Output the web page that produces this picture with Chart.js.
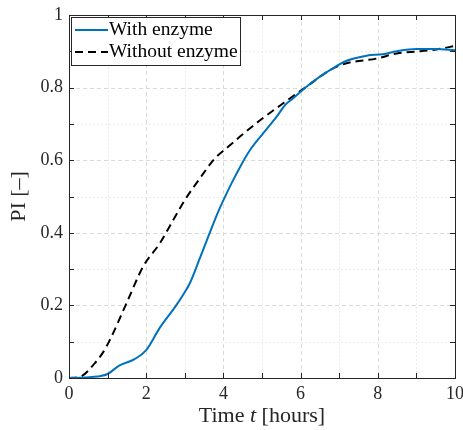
<!DOCTYPE html>
<html>
<head>
<meta charset="utf-8">
<script src="https://cdn.jsdelivr.net/npm/chart.js@4.4.1/dist/chart.umd.min.js"></script>
<style>
html,body{margin:0;padding:0;background:#fff;}
#wrap{width:463px;height:430px;position:relative;}
</style>
</head>
<body>
<div id="wrap"><canvas id="c" width="463" height="430"></canvas></div>
<script>
const seriesNames = ["With enzyme", "Without enzyme"];
const withT = [0,0.3,0.6,0.8,1.0,1.3,1.7,2.0,2.35,2.75,2.95,3.13,3.39,3.61,3.87,4.21,4.45,4.69,5.03,5.38,5.6,5.8,6.24,6.76,7.19,7.71,8.13,8.49,9.0,9.52,10];
const withPI = [0,0.001,0.003,0.005,0.011,0.034,0.052,0.077,0.138,0.196,0.228,0.261,0.33,0.39,0.459,0.536,0.585,0.628,0.674,0.72,0.752,0.77,0.81,0.848,0.874,0.888,0.892,0.9,0.906,0.906,0.903];
const withoutT = [0,0.3,0.67,0.89,1.06,1.49,1.92,2.36,2.7,3.0,3.39,3.78,4.08,4.43,4.95,5.55,6.16,6.76,7.19,7.97,8.49,9.09,9.52,10];
const withoutPI = [0,0.004,0.041,0.072,0.105,0.206,0.307,0.372,0.435,0.49,0.55,0.605,0.633,0.665,0.71,0.757,0.803,0.848,0.867,0.88,0.894,0.9,0.905,0.915];
const xTickLabels = ["0","2","4","6","8","10"];
const yTickLabels = ["0","0.2","0.4","0.6","0.8","1"];
const xTitle = ["Time ", "t", " [hours]"];
const yTitle = "PI [\u2013]";

const FONT = "'Liberation Serif', 'DejaVu Serif', serif";

const toPts = (xs, ys) => xs.map((x, i) => ({x: x, y: ys[i]}));

const decor = {
  id: 'decor',
  beforeDatasetsDraw(chart) {
    const {ctx, chartArea: a, scales: {x, y}} = chart;
    ctx.save();
    ctx.lineWidth = 1;
    ctx.strokeStyle = '#ececec';
    ctx.setLineDash([2, 2]);
    for (let v = 1; v < 10; v += 2) {
      const px = Math.round(x.getPixelForValue(v)) + 0.5;
      ctx.beginPath(); ctx.moveTo(px, a.top); ctx.lineTo(px, a.bottom); ctx.stroke();
    }
    for (let k = 1; k < 10; k += 2) {
      const py = Math.round(y.getPixelForValue(k / 10)) + 0.5;
      ctx.beginPath(); ctx.moveTo(a.left, py); ctx.lineTo(a.right, py); ctx.stroke();
    }
    ctx.strokeStyle = '#dadada';
    ctx.setLineDash([4, 3]);
    xTickLabels.forEach(l => {
      const v = parseFloat(l); if (v <= 0 || v >= 10) return;
      const px = Math.round(x.getPixelForValue(v)) + 0.5;
      ctx.beginPath(); ctx.moveTo(px, a.top); ctx.lineTo(px, a.bottom); ctx.stroke();
    });
    yTickLabels.forEach(l => {
      const v = parseFloat(l); if (v <= 0 || v >= 1) return;
      const py = Math.round(y.getPixelForValue(v)) + 0.5;
      ctx.beginPath(); ctx.moveTo(a.left, py); ctx.lineTo(a.right, py); ctx.stroke();
    });
    ctx.restore();
  },
  afterDraw(chart) {
    const {ctx, chartArea: a, scales: {x, y}} = chart;
    ctx.save();
    ctx.setLineDash([]);
    ctx.strokeStyle = '#262626';
    ctx.lineWidth = 1;
    const L = 5;
    for (let v = 0; v <= 10; v++) {
      const px = Math.round(x.getPixelForValue(v)) + 0.5;
      ctx.beginPath();
      ctx.moveTo(px, a.bottom); ctx.lineTo(px, a.bottom - L);
      ctx.moveTo(px, a.top); ctx.lineTo(px, a.top + L);
      ctx.stroke();
    }
    for (let k = 0; k <= 10; k++) {
      const py = Math.round(y.getPixelForValue(k / 10)) + 0.5;
      ctx.beginPath();
      ctx.moveTo(a.left, py); ctx.lineTo(a.left + L, py);
      ctx.moveTo(a.right, py); ctx.lineTo(a.right - L, py);
      ctx.stroke();
    }
    ctx.strokeRect(Math.round(a.left) + 0.5, Math.round(a.top) + 0.5, Math.round(a.right - a.left), Math.round(a.bottom - a.top));

    ctx.fillStyle = '#262626';
    ctx.textBaseline = 'alphabetic';
    const fN = "22px " + FONT, fI = "italic 22px " + FONT;
    const fonts = [fN, fI, fN];
    let widths = xTitle.map((s, i) => { ctx.font = fonts[i]; return ctx.measureText(s).width; });
    let total = widths.reduce((p, c) => p + c, 0);
    let cx = (a.left + a.right) / 2 - total / 2;
    xTitle.forEach((s, i) => { ctx.font = fonts[i]; ctx.fillText(s, cx, 422); cx += widths[i]; });

    ctx.save();
    ctx.translate(25, (a.top + a.bottom) / 2);
    ctx.rotate(-Math.PI / 2);
    ctx.font = fN;
    ctx.textAlign = 'center';
    ctx.fillText(yTitle, 0, 0);
    ctx.restore();

    const lx = 71, ly = 17, lw = 169, lh = 48;
    ctx.fillStyle = '#fff';
    ctx.fillRect(lx, ly, lw, lh);
    ctx.strokeStyle = '#262626';
    ctx.lineWidth = 1;
    ctx.strokeRect(lx + 0.5, ly + 0.5, lw, lh);
    chart.data.datasets.forEach((ds, i) => {
      const yy = ly + 13 + i * 22;
      ctx.strokeStyle = ds.borderColor;
      ctx.lineWidth = 2;
      ctx.setLineDash(ds.borderDash || []);
      ctx.beginPath(); ctx.moveTo(lx + 4, yy); ctx.lineTo(lx + 37, yy); ctx.stroke();
      ctx.setLineDash([]);
      ctx.fillStyle = '#000';
      ctx.font = "19.5px " + FONT;
      ctx.textBaseline = 'middle';
      ctx.textAlign = 'left';
      ctx.fillText(ds.label, lx + 38, yy);
    });
    ctx.restore();
  }
};

new Chart(document.getElementById('c'), {
  type: 'scatter',
  data: {
    datasets: [
      {label: seriesNames[0], data: toPts(withT, withPI), showLine: true, borderColor: '#0072BD', borderWidth: 2, pointRadius: 0, cubicInterpolationMode: 'monotone', fill: false},
      {label: seriesNames[1], data: toPts(withoutT, withoutPI), showLine: true, borderColor: '#000000', borderWidth: 2, borderDash: [8, 5], pointRadius: 0, cubicInterpolationMode: 'monotone', fill: false}
    ]
  },
  options: {
    responsive: false,
    animation: false,
    events: [],
    layout: {padding: {top: 15, right: 8, left: 0, bottom: 0}},
    plugins: {legend: {display: false}, tooltip: {enabled: false}},
    scales: {
      x: {
        type: 'linear', min: 0, max: 10,
        grid: {display: false, drawTicks: false},
        border: {display: false},
        afterFit(s) { s.height = 52; s.paddingRight = 0; s.paddingLeft = 0; },
        afterBuildTicks(s) { s.ticks = xTickLabels.map(l => ({value: parseFloat(l), label: l})); },
        ticks: {color: '#262626', font: {family: FONT, size: 18}, padding: 5, maxRotation: 0, autoSkip: false,
          callback: (v) => { const i = xTickLabels.findIndex(l => parseFloat(l) === v); return i >= 0 ? xTickLabels[i] : ''; }}
      },
      y: {
        type: 'linear', min: 0, max: 1,
        grid: {display: false, drawTicks: false},
        border: {display: false},
        afterFit(s) { s.width = 69; s.paddingTop = 0; s.paddingBottom = 0; },
        afterBuildTicks(s) { s.ticks = yTickLabels.map(l => ({value: parseFloat(l), label: l})); },
        ticks: {color: '#262626', font: {family: FONT, size: 18}, padding: 6, autoSkip: false,
          callback: (v) => { const i = yTickLabels.findIndex(l => Math.abs(parseFloat(l) - v) < 1e-9); return i >= 0 ? yTickLabels[i] : ''; }}
      }
    }
  },
  plugins: [decor]
});
</script>
</body>
</html>
